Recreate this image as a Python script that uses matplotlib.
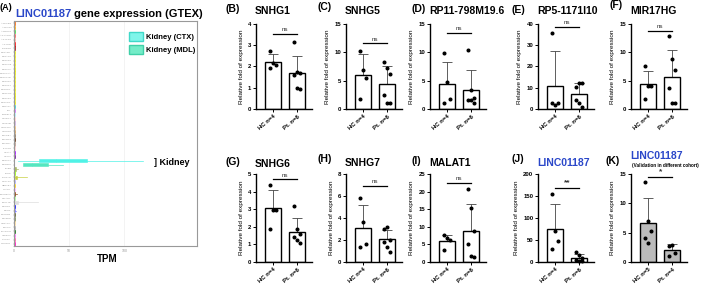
import numpy as np
import matplotlib.pyplot as plt
from matplotlib.patches import Patch

plt.rcParams["font.family"] = ["Liberation Sans", "DejaVu Sans"]
plt.rcParams["font.weight"] = "bold"

W, H = 709, 286
BLUE = "#2a47c9"

# ---- panel A: GTEx expression of LINC01187 (TPM) ----
tissues = [
    "ADPSBQ", "ADPVSC", "ADRNLG", "ARTAORT", "ARTCRN", "ARTTBL", "BLDDER",
    "BRNAMY", "BRNACC", "BRNCDT", "BRNCHB", "BRNCHA", "BRNCTXA", "BRNCTXB",
    "BRNHPP", "BRNHPT", "BRNNCC", "BRNPTM", "BRNSPC", "BRNSNG", "BREAST",
    "LCL", "FIBRBLS", "CVXECT", "CVSEND", "CLNSGM", "CLNTRN", "ESPGEJ",
    "ESPMCS", "ESPMSL", "FLLPNT", "HRTAA", "HRTLV", "KDNCTX", "KDNMDL",
    "LIVER", "LUNG", "SLVRYG", "MSCLSK", "NERVET", "OVARY", "PNCREAS",
    "PTTARY", "PRSTTE", "SKINNS", "SKINS", "SNTTRM", "SPLEEN", "STMACH",
    "TESTIS", "THYROID", "UTERUS", "VAGINA", "WHLBLD",
]
tissue_colors = [
    "#FF6600", "#FFAA00", "#33DD33", "#FF5555", "#FFAA99", "#FF0000", "#AA0000",
    "#EEEE00", "#EEEE00", "#EEEE00", "#EEEE00", "#EEEE00", "#EEEE00", "#EEEE00",
    "#EEEE00", "#EEEE00", "#EEEE00", "#EEEE00", "#EEEE00", "#EEEE00",
    "#33CCCC", "#CC66FF", "#AAEEFF", "#FFCCCC", "#CCAADD", "#EEBB77",
    "#CC9955", "#8B7355", "#552200", "#BB9988", "#FFCCCC", "#9900FF",
    "#660099", "#4FF2E6", "#55E6C0", "#AABB66", "#99FF00", "#C8D040",
    "#AAAAFF", "#FFD700", "#FFAAFF", "#995522", "#AAFF99", "#DDDDDD",
    "#0000FF", "#7777FF", "#555522", "#778855", "#FFDD99", "#AAAAAA",
    "#006600", "#FF66FF", "#FF5599", "#FF00BB",
]
# (whisker low, q1, median, q3, whisker high) for tissues above zero
expressed = {
    "KDNCTX": (4, 23, 38, 66, 117),
    "KDNMDL": (8, 8, 16, 31, 44),
    "LIVER": (0, 0, 0.5, 1.5, 4),
    "SLVRYG": (0, 0.5, 1.5, 3, 12),
    "PNCREAS": (0, 0, 0.5, 1, 3),
    "PRSTTE": (0, 0, 1, 4, 22),
    "SKINS": (0, 0, 0.3, 0.8, 2),
}

# ---- panels B-K: qPCR relative fold of expression ----
letters = ["(B)", "(C)", "(D)", "(E)", "(F)", "(G)", "(H)", "(I)", "(J)", "(K)"]
genes = ["SNHG1", "SNHG5", "RP11-798M19.6", "RP5-1171I10", "MIR17HG",
         "SNHG6", "SNHG7", "MALAT1", "LINC01187", "LINC01187"]
hc_values = [
    [2.75, 2.15, 2.05, 1.95],
    [10.3, 6.9, 5.4, 1.7],
    [9.8, 4.8, 1.7, 1.0],
    [35.6, 1.9, 3.0, 3.0],
    [7.5, 4.1, 4.1, 1.7],
    [4.4, 2.95, 2.95, 1.86],
    [5.8, 3.6, 1.64, 1.34],
    [7.6, 6.7, 6.2, 3.4],
    [155, 70, 48, 30],
    [13.7, 7.06, 5.2, 4.07, 3.2],
]
pt_values = [
    [3.15, 1.75, 1.7, 1.6, 1.0, 0.95],
    [8.35, 7.2, 6.2, 2.5, 1.05, 1.05],
    [10.5, 3.35, 1.9, 1.6, 1.6, 1.05],
    [10.5, 12.1, 12.4, 4.2, 2.7, 0.8],
    [12.8, 8.9, 6.9, 3.65, 1.0, 1.1],
    [3.2, 1.86, 1.58, 1.4, 1.25, 1.1],
    [2.97, 3.15, 2.0, 1.85, 1.4, 0.94],
    [20.6, 15.2, 8.9, 5.1, 1.7, 1.3],
    [22, 15, 10, 5, 3, 2],
    [2.75, 2.95, 1.5, 1.1],
]
y_max = [4, 15, 15, 40, 15, 5, 8, 25, 200, 15]
y_step = [1, 5, 5, 10, 5, 1, 2, 5, 50, 5]
sig_labels = ["ns", "ns", "ns", "ns", "ns", "ns", "ns", "ns", "**", "*"]
sig_heights = [3.55, 11.6, 13.4, 38.6, 13.8, 4.7, 6.9, 22.4, 168, 14.5]
group_labels = [["HC n=4", "Pt. n=6"]] * 9 + [["HC n=5", "Pt. n=4"]]


def fx(x):
    return x / W


def fy(y):
    return 1 - y / H


fig = plt.figure(figsize=(W / 100, H / 100), dpi=100)
renderer = fig.canvas.get_renderer()

# ---------- panel A ----------
axA = fig.add_axes([fx(14), fy(246), fx(183), 225 / H])
stats = []
for name in tissues:
    lo, q1, med, q3, hi = expressed.get(name, (0, 0, 0, 0.5, 1.0))
    stats.append(dict(whislo=lo, q1=q1, med=med, q3=q3, whishi=hi, fliers=[]))
pos = np.arange(len(tissues))
bp = axA.bxp(stats, positions=pos, vert=False, widths=0.8, patch_artist=True,
             showcaps=False, manage_ticks=False)
for i, c in enumerate(tissue_colors):
    bp["boxes"][i].set(facecolor=c, edgecolor=c, linewidth=0.4)
    bp["medians"][i].set(color=c, linewidth=0.4)
    for w in bp["whiskers"][2 * i:2 * i + 2]:
        w.set(color=c, linewidth=0.5)
axA.set_ylim(len(tissues) - 0.5, -0.5)
axA.set_xlim(0, 166)
axA.set_yticks(pos)
axA.set_yticklabels(tissues, fontsize=1.7, color="#777777", fontweight="normal")
axA.set_xticks([0, 50, 100])
axA.set_xticklabels(["0", "50", "100"], fontsize=2.5, color="#777777",
                    fontweight="normal")
axA.tick_params(length=1, width=0.3, pad=0.8, colors="#999999")
axA.grid(axis="x", color="#eeeeee", linewidth=0.5)
axA.set_axisbelow(True)
for s in axA.spines.values():
    s.set_color("#999999")
    s.set_linewidth(0.8)
axA.legend(handles=[Patch(facecolor="#7ff5ea", edgecolor="#40d8c8", label="Kidney (CTX)"),
                    Patch(facecolor="#74ecc8", edgecolor="#40d0a8", label="Kidney (MDL)")],
           loc="upper right", bbox_to_anchor=(1.03, 0.98), frameon=False,
           fontsize=5.5, handlelength=1.9, handleheight=1.3, labelspacing=0.55,
           handletextpad=0.4)
axA.text(127, 33.5, "] Kidney", fontsize=6.5, va="center", ha="left")
fig.text(fx(107), fy(259), "TPM", fontsize=7, ha="center", va="center")
fig.text(fx(0), fy(7), "(A)", fontsize=6.5, ha="left", va="center")
t1 = fig.text(fx(15), fy(14), "LINC01187", fontsize=8, color=BLUE,
              ha="left", va="center")
x_end = t1.get_window_extent(renderer).x1
fig.text(x_end / W + fx(3), fy(14), "gene expression (GTEX)", fontsize=8,
         ha="left", va="center")

# ---------- panels B-K ----------
col_x = [256, 346, 430, 538, 631]
row_y = [(24, 109), (174, 262)]
letter_pos = [(226, 9), (317, 7), (412, 9), (511, 10), (609, 5),
              (226, 162), (317, 159), (412, 161), (511, 159), (606, 161)]
title_y = [11, 11, 11, 11, 11, 164, 163, 163, 163, 156]

for k in range(10):
    top, bot = row_y[k // 5]
    ax = fig.add_axes([fx(col_x[k % 5]), fy(bot), fx(56), (bot - top) / H])
    hc = np.array(hc_values[k], dtype=float)
    pt = np.array(pt_values[k], dtype=float)
    means = [hc.mean(), pt.mean()]
    sds = [hc.std(ddof=1), pt.std(ddof=1)]
    face = "#bbbbbb" if k == 9 else "white"
    ax.errorbar([0, 1], means, yerr=[[0, 0], sds], fmt="none", ecolor="#444444",
                elinewidth=0.6, capsize=3.5, capthick=0.6, zorder=1)
    ax.bar([0, 1], means, width=0.66, color=face, edgecolor="black",
           linewidth=1.0, zorder=2)
    for xi, vals in enumerate([hc, pt]):
        n = len(vals)
        jit = ((np.arange(n) % 3) - 1) * 0.13
        ax.plot(xi + jit, vals, "o", color="black", ms=1.9, zorder=3, clip_on=False)
    ax.set_xlim(-0.72, 1.62)
    ax.set_ylim(0, y_max[k])
    ticks = np.arange(0, y_max[k] + 0.01, y_step[k])
    ax.set_yticks(ticks)
    ax.set_yticklabels([f"{v:g}" for v in ticks])
    ax.set_xticks([0, 1])
    ax.set_xticklabels(group_labels[k], rotation=40, ha="right",
                       rotation_mode="anchor")
    ax.tick_params(axis="both", labelsize=4.3, length=2.2, width=0.7, pad=1.2)
    for s in ["top", "right"]:
        ax.spines[s].set_visible(False)
    for s in ["left", "bottom"]:
        ax.spines[s].set_linewidth(1.0)
    ax.set_ylabel("Relative fold of expression", fontsize=4.6, labelpad=3)
    h = sig_heights[k]
    ax.plot([0, 1], [h, h], color="black", linewidth=0.9, clip_on=False)
    lab = sig_labels[k]
    ax.text(0.5, h + y_max[k] * 0.02, lab, ha="center", va="bottom",
            fontsize=4.5 if lab == "ns" else 6,
            fontweight="normal" if lab == "ns" else "bold", color="#333333")

    lx, ly = letter_pos[k]
    fig.text(fx(lx), fy(ly), letters[k], fontsize=7.5, ha="left", va="center")
    color = BLUE if genes[k] == "LINC01187" else "black"
    fig.text(fx(col_x[k % 5] - 1), fy(title_y[k]), genes[k], fontsize=7.5,
             color=color, ha="left", va="center")

fig.text(fx(632), fy(165), "(Validation in different cohort)", fontsize=3.3,
         ha="left", va="center")

fig.savefig("out.png", dpi=100)
